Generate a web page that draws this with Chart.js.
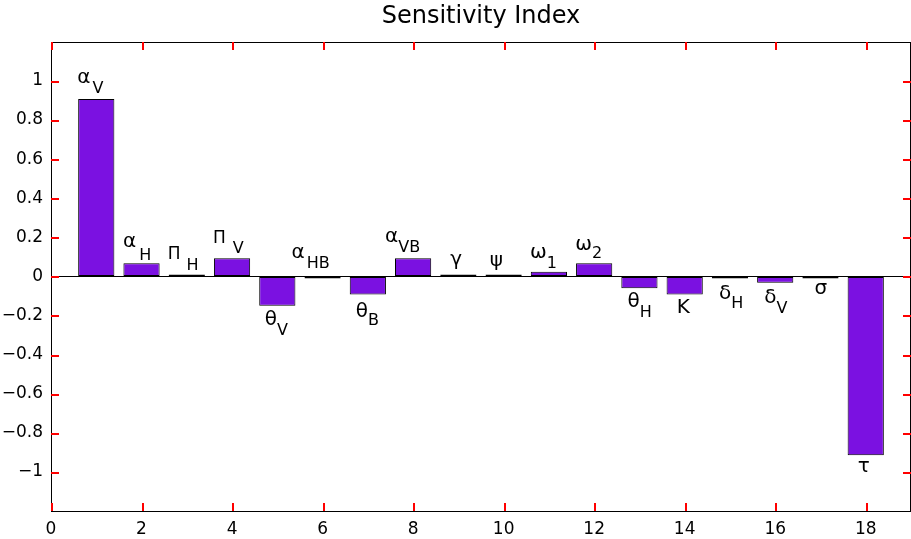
<!DOCTYPE html>
<html>
<head>
<meta charset="utf-8">
<script src="https://cdn.jsdelivr.net/npm/chart.js@4.4.1/dist/chart.umd.min.js"></script>
<style>
  body { margin: 0; background: #fff; }
  #wrap { width: 911px; height: 539px; position: relative; }
</style>
</head>
<body>
<div id="wrap"><canvas id="sensChart"></canvas></div>
<script>
// parameter index on the x axis and its sensitivity index
const params = [1, 2, 3, 4, 5, 6, 7, 8, 9, 10, 11, 12, 13, 14, 15, 16, 17, 18];
const sensitivity = [0.907, 0.067, 0.002, 0.093, -0.150, -0.002, -0.092, 0.093, 0.003,
    0.003, 0.024, 0.067, -0.061, -0.092, -0.004, -0.032, -0.011, -0.915];
const labelMain = ['α', 'α', 'Π', 'Π', 'θ', 'α', 'θ', 'α', 'γ', 'ψ', 'ω', 'ω', 'θ', 'Κ', 'δ', 'δ', 'σ', 'τ'];
const labelSub = ['V', 'H', 'H', 'V', 'V', 'HB', 'B', 'VB', '', '', '1', '2', 'H', '', 'H', 'V', '', ''];
const xTicks = [0, 2, 4, 6, 8, 10, 12, 14, 16, 18];
const yTicks = [-1, -0.8, -0.6, -0.4, -0.2, 0, 0.2, 0.4, 0.6, 0.8, 1];

// label placement in pixels: [dx from bar centre, dy from bar end, subscript drop, gap]
const labelLayout = [
    [-19, -16, 10, 2], [-18.5, -16, 13, 3], [-19, -15, 11, 6], [-19, -15, 10, 7],
    [-12.5, 19, 10, 0], [-31, -20, 10, 2], [-12, 23, 8, 0], [-28, -16, 10, 0],
    [-8, -9, 0, 0], [-14, -8, 0, 0], [-19, -14, 10, 0], [-19, -13, 8, 0],
    [-12, 19, 10, 0], [-8, 19, 0, 0], [-11, 21, 9, 0], [-11, 20, 10, 0],
    [-6, 15, 0, 0], [-8, 17, 0, 0]
];

const FONT = 'DejaVu Sans';
const TICK_LEN = 8;

function fmtTick(v) {
    const r = Math.round(v * 10) / 10;
    return r < 0 ? '\u2212' + Math.abs(r) : String(r);
}

const barLabels = {
    id: 'barLabels',
    afterDatasetsDraw(chart) {
        const c = chart.ctx;
        const meta = chart.getDatasetMeta(0);
        c.save();
        c.fillStyle = '#000';
        c.textAlign = 'left';
        c.textBaseline = 'alphabetic';
        meta.data.forEach((bar, i) => {
            const [dx, dy, drop, gap] = labelLayout[i];
            const left = bar.x + dx;
            const base = bar.y + dy;
            c.font = (labelMain[i] === 'Π' ? '17px ' : '20px ') + FONT;
            c.fillText(labelMain[i], left, base);
            if (labelSub[i]) {
                const w = c.measureText(labelMain[i]).width;
                c.font = '16px ' + FONT;
                c.fillText(labelSub[i], left + w + gap, base + drop);
            }
        });
        c.restore();
    }
};

// MATLAB style box with inward tick marks on all four sides
const boxTicks = {
    id: 'matlabBox',
    afterDraw(chart) {
        const c = chart.ctx;
        const a = chart.chartArea;
        const sx = chart.scales.x, sy = chart.scales.y;
        const T = Math.round(a.top), B = Math.round(a.bottom);
        const L = Math.round(a.left), R = Math.round(a.right) - 1;
        c.save();
        c.fillStyle = '#000';
        c.fillRect(L, T, R - L + 1, 1);
        c.fillRect(L, B, R - L + 1, 1);
        c.fillRect(L, T, 1, B - T + 1);
        c.fillRect(R, T, 1, B - T + 1);
        c.fillStyle = 'red';
        xTicks.forEach(v => {
            const px = Math.round(sx.getPixelForValue(v));
            c.fillRect(px, B - TICK_LEN, 2, TICK_LEN);
            c.fillRect(px, T, 2, TICK_LEN);
        });
        yTicks.forEach(v => {
            const py = Math.round(sy.getPixelForValue(v));
            c.fillRect(L, py, TICK_LEN, 2);
            c.fillRect(R - TICK_LEN + 1, py, TICK_LEN, 2);
        });
        c.restore();
    }
};

const sensChart = new Chart(document.getElementById('sensChart'), {
    type: 'bar',
    data: {
        datasets: [{
            label: 'Sensitivity Index',
            data: params.map((p, i) => ({ x: p, y: sensitivity[i] })),
            backgroundColor: '#7b11e1',
            borderColor: '#000',
            borderWidth: 1,
            borderSkipped: false,
            minBarLength: 2,
            barPercentage: 0.8,
            categoryPercentage: 1
        }]
    },
    options: {
        responsive: true,
        maintainAspectRatio: false,
        animation: false,
        layout: { padding: { left: 0, right: -1, top: 0, bottom: 0 } },
        plugins: {
            legend: { display: false },
            tooltip: { enabled: false },
            title: {
                display: true,
                text: 'Sensitivity Index',
                color: '#000',
                fullSize: false,
                font: { family: FONT, size: 24, weight: 'normal' },
                padding: { top: 2, bottom: 11 }
            }
        },
        scales: {
            x: {
                type: 'linear',
                min: 0,
                max: 19,
                offset: false,
                grid: { display: false, drawTicks: false },
                border: { display: false },
                afterBuildTicks: s => { s.ticks = xTicks.map(v => ({ value: v })); },
                afterFit: s => { s.height = 28; },
                ticks: {
                    color: '#000',
                    padding: 8,
                    maxRotation: 0,
                    font: { family: FONT, size: 17 },
                    callback: v => fmtTick(v)
                }
            },
            y: {
                min: -1.2,
                max: 1.2,
                grid: {
                    drawTicks: false,
                    color: c => (c.tick && Math.abs(c.tick.value) < 1e-9) ? '#000' : 'rgba(0,0,0,0)'
                },
                border: { display: false },
                afterBuildTicks: s => { s.ticks = yTicks.map(v => ({ value: v })); },
                afterFit: s => { s.width = 51; },
                ticks: {
                    color: '#000',
                    padding: 8,
                    font: { family: FONT, size: 17 },
                    callback: v => fmtTick(v)
                }
            }
        }
    },
    plugins: [barLabels, boxTicks]
});
</script>
</body>
</html>
